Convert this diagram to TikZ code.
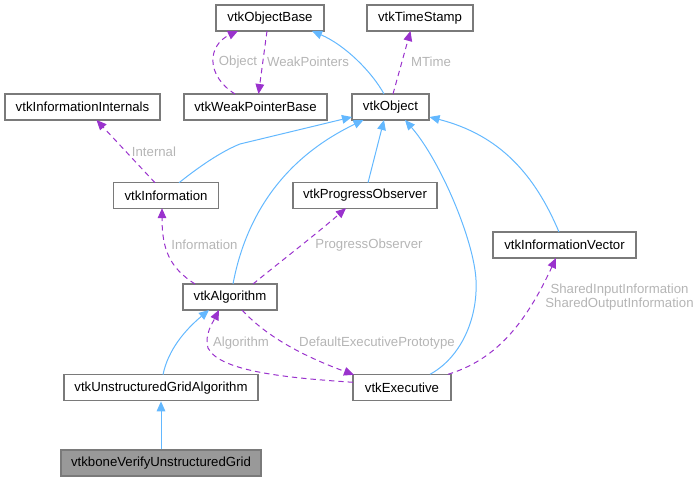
\documentclass[tikz,border=0pt]{standalone}
\usepackage{fontspec}
\setmainfont{Liberation Sans}
\usetikzlibrary{arrows.meta,calc}
\definecolor{inh}{HTML}{63B8FF}
\definecolor{usg}{HTML}{9A32CD}
\definecolor{bord}{HTML}{7A7A7A}
\definecolor{lbl}{HTML}{B5B5B5}
\definecolor{tgt}{HTML}{999999}
\begin{document}
\begin{tikzpicture}[x=0.75pt,y=-0.75pt,
 cls/.style={draw=bord, fill=white, line width=1pt, inner sep=0pt, minimum height=19.5pt, font=\fontsize{9.9}{12}\selectfont},
 inhe/.style={draw=inh, line width=0.75pt, -{Triangle[length=7.5pt,width=6.5pt]}},
 use/.style={draw=usg, line width=0.75pt, dash pattern=on 4pt off 3pt, -{Triangle[length=7.5pt,width=6.5pt]}},
 elbl/.style={text=lbl, font=\fontsize{9.9}{10.7}\selectfont, inner sep=0pt, align=center}]
\useasboundingbox (0,0) rectangle (697,481);

\node[cls, minimum width=81pt] (OB) at (270,18) {vtkObjectBase};
\node[cls, minimum width=79.5pt] (TS) at (420,18) {vtkTimeStamp};
\node[cls, minimum width=116.25pt] (II) at (82.5,107) {vtkInformationInternals};
\node[cls, minimum width=107.25pt] (WPB) at (255.5,107) {vtkWeakPointerBase};
\node[cls, minimum width=57.75pt] (Obj) at (390.5,107) {vtkObject};
\node[cls, minimum width=78.4pt] (Info) at (166,195.5) {vtkInformation};
\node[cls, minimum width=108pt] (PO) at (365,195.5) {vtkProgressObserver};
\node[cls, minimum width=107.25pt] (IV) at (564.5,245) {vtkInformationVector};
\node[cls, minimum width=70.5pt] (Alg) at (230,297) {vtkAlgorithm};
\node[cls, minimum width=145.3pt] (UGA) at (161,387.7) {vtkUnstructuredGridAlgorithm};
\node[cls, minimum width=73.5pt] (Exec) at (402,387.3) {vtkExecutive};
\node[cls, minimum width=150pt, fill=tgt] (VUG) at (161,463) {vtkboneVerifyUnstructuredGrid};

% inheritance
\draw[inhe] ($(Obj)+(-6.5,-13)$) .. controls (372,72) and (345,45) .. ($(OB)+(42,13)$);
\draw[inhe] ($(Info)+(13,-12.75)$) .. controls (205,162) and (225,150) .. (240,144) -- ($(Obj)+(-38.5,10)$);
\draw[inhe] ($(Alg)+(3,-13)$) .. controls (245,220) and (280,160) .. ($(Obj)+(-27,13)$);
\draw[inhe] ($(PO)+(3,-12.75)$) -- ($(Obj)+(-6.5,13)$);
\draw[inhe] ($(Exec)+(28,-13)$) .. controls (460,358) and (478,320) .. (476,280) .. controls (474,240) and (440,160) .. ($(Obj)+(14.5,13)$);
\draw[inhe] ($(IV)+(-5.5,-13)$) .. controls (535,175) and (500,135) .. ($(Obj)+(39,10)$);
\draw[inhe] ($(UGA)+(2,-13)$) .. controls (168,350) and (185,330) .. ($(Alg)+(-21,13)$);
\draw[inhe] (VUG.north) -- (UGA.south);

% usage
\draw[use] ($(Obj)+(2.5,-13)$) -- ($(TS)+(-9.5,13)$);
\draw[use] ($(WPB)+(-20.5,-13)$) .. controls (205,75) and (208,45) .. ($(OB)+(-32,13)$);
\draw[use] ($(OB)+(-3,13)$) -- ($(WPB)+(3,-13)$);
\draw[use] ($(Info)+(-11,-12.75)$) -- ($(II)+(14,13)$);
\draw[use] ($(Alg)+(-35,-13)$) .. controls (170,268) and (162,250) .. ($(Info)+(-4,12.75)$);
\draw[use] ($(Alg)+(23,-13)$) .. controls (280,262) and (315,235) .. ($(PO)+(-19,12.75)$);
\draw[use] ($(Alg)+(12,13)$) .. controls (265,335) and (300,355) .. ($(Exec)+(-48,-12.5)$);
\draw[use] ($(Exec)+(-49,-5)$) .. controls (290,378) and (220,372) .. (208,348) .. controls (204,335) and (213,322) .. ($(Alg)+(-11,13)$);
\draw[use] ($(Exec)+(46,-13)$) .. controls (495,360) and (525,325) .. ($(IV)+(-8.5,13)$);

% labels
\node[elbl] (lObject) at (238,62) {Object};
\node[elbl] (lWeak) at (308,62) {WeakPointers};
\node[elbl] (lMTime) at (431,62) {MTime};
\node[elbl] (lInternal) at (154,152) {Internal};
\node[elbl] (lInformation) at (204.5,245) {Information};
\node[elbl] (lProgress) at (369,245) {ProgressObserver};
\node[elbl] (lAlgorithm) at (241,343) {Algorithm};
\node[elbl] (lDefault) at (377,343) {DefaultExecutivePrototype};
\node[elbl] (lShared) at (619.5,297.3) {SharedInputInformation\\SharedOutputInformation};
\end{tikzpicture}
\end{document}
